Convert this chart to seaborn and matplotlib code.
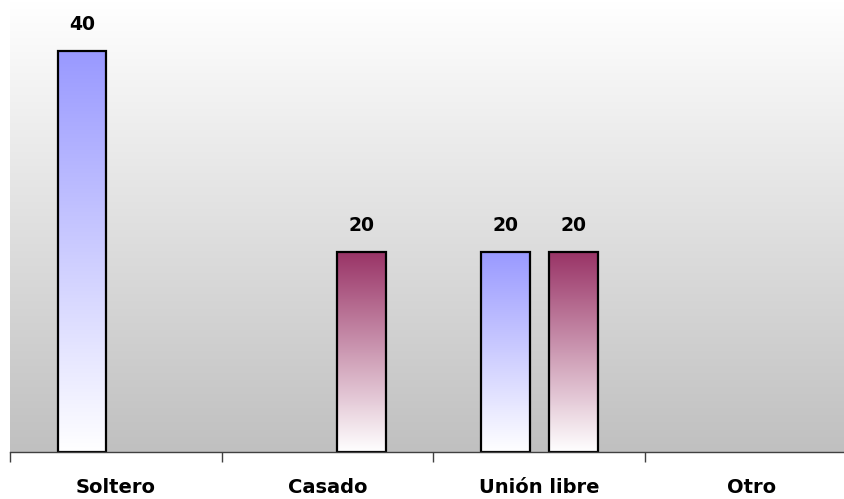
import numpy as np
import pandas as pd
import seaborn as sns
import matplotlib
matplotlib.use("Agg")
import matplotlib.pyplot as plt
from matplotlib.colors import LinearSegmentedColormap

# datos del gráfico
categorias = ['Soltero', 'Casado', 'Unión libre', 'Otro']
serie1 = [40, 0, 20, 0]
serie2 = [0, 20, 20, 0]

df = pd.DataFrame({
    'categoria': categorias * 2,
    'valor': serie1 + serie2,
    'serie': ['Serie1'] * 4 + ['Serie2'] * 4,
})

sns.set_theme(style="white")
plt.rcParams['font.family'] = ['DejaVu Sans']

fig = plt.figure(figsize=(8.45, 4.99), dpi=100)
ax = fig.add_axes([10 / 845, 47 / 499, 847 / 845, 451 / 499])

colores = {'Serie1': '#9999ff', 'Serie2': '#993366'}
sns.barplot(data=df, x='categoria', y='valor', hue='serie', order=categorias,
            hue_order=['Serie1', 'Serie2'], palette=colores, saturation=1,
            width=0.64, gap=0.28, edgecolor='black', linewidth=1.6,
            legend=False, ax=ax)

ax.set_xlim(-0.5, 3.5)
ax.set_ylim(0, 45)

# fondo degradado blanco -> gris
fondo = LinearSegmentedColormap.from_list('fondo', ['#c0c0c0', '#ffffff'])
ax.imshow(np.linspace(0, 1, 256).reshape(-1, 1), cmap=fondo, aspect='auto',
          extent=[0, 1, 0, 1], transform=ax.transAxes, origin='lower', zorder=0)

# relleno degradado en las barras
for p in list(ax.patches):
    h = p.get_height()
    if h <= 0:
        p.remove()
        continue
    x0 = p.get_x()
    w = p.get_width()
    col = p.get_facecolor()
    cmap = LinearSegmentedColormap.from_list('b', ['#ffffff', col])
    ax.imshow(np.linspace(0, 1, 256).reshape(-1, 1), cmap=cmap, aspect='auto',
              extent=[x0, x0 + w, 0, h], origin='lower', zorder=1.5)
    p.set_facecolor('none')
    p.set_zorder(2)
    ax.text(x0 + w / 2, h + 1.7, f'{int(h)}', ha='center', va='bottom',
            fontsize=13.5, fontweight='bold', color='black')

ax.set_xlim(-0.5, 3.5)
ax.set_ylim(0, 45)

for s in ['top', 'right', 'left']:
    ax.spines[s].set_visible(False)
ax.spines['bottom'].set_color('#404040')
ax.spines['bottom'].set_linewidth(1)
ax.set_yticks([])
ax.set_xlabel('')
ax.set_ylabel('')
ax.set_xticks(range(4))
ax.set_xticklabels(categorias, fontsize=14, fontweight='bold', color='black')
ax.set_xticks([-0.5, 0.5, 1.5, 2.5, 3.5], minor=True)
ax.tick_params(axis='x', which='major', length=0, pad=19)
ax.tick_params(axis='x', which='minor', length=7, width=1, color='#404040', bottom=True)

fig.savefig('out.png', dpi=100)
